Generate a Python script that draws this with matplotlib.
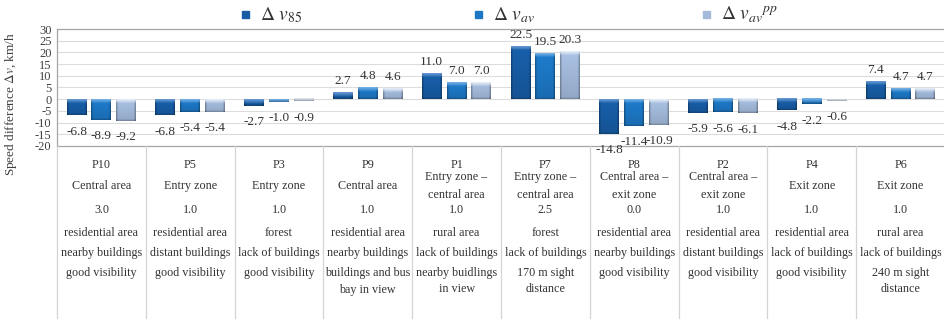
#!/usr/bin/env python3
"""
Speed difference per measurement point, with a descriptive table of the
site conditions underneath the bars.
"""
import numpy as np
import matplotlib
matplotlib.use('Agg')
import matplotlib.pyplot as plt
from matplotlib.colors import to_rgb
from matplotlib.patches import Rectangle

plt.rcParams['font.family'] = ['Liberation Serif', 'DejaVu Serif']
plt.rcParams['mathtext.fontset'] = 'stix'

# --- data -------------------------------------------------------------
points = ['P10', 'P5', 'P3', 'P9', 'P1', 'P7', 'P8', 'P2', 'P4', 'P6']
zones = ['Central area', 'Entry zone', 'Entry zone', 'Central area',
         'Entry zone –\ncentral area', 'Entry zone –\ncentral area',
         'Central area –\nexit zone', 'Central area –\nexit zone',
         'Exit zone', 'Exit zone']
numbers = ['3.0', '1.0', '1.0', '1.0', '1.0', '2.5', '0.0', '1.0', '1.0', '1.0']
land_use = ['residential area', 'residential area', 'forest', 'residential area',
            'rural area', 'forest', 'residential area', 'residential area',
            'residential area', 'rural area']
buildings = ['nearby buildings', 'distant buildings', 'lack of buildings',
             'nearby buildings', 'lack of buildings', 'lack of buildings',
             'nearby buildings', 'distant buildings', 'lack of buildings',
             'lack of buildings']
visibility = ['good visibility', 'good visibility', 'good visibility',
              'buildings and bus\nbay in view', 'nearby buidlings\nin view',
              '170 m sight\ndistance', 'good visibility', 'good visibility',
              'good visibility', '240 m sight\ndistance']

dv85 = [-6.8, -6.8, -2.7, 2.7, 11.0, 22.5, -14.8, -5.9, -4.8, 7.4]
dvav = [-8.9, -5.4, -1.0, 4.8, 7.0, 19.5, -11.4, -5.6, -2.2, 4.7]
dvav_pp = [-9.2, -5.4, -0.9, 4.6, 7.0, 20.3, -10.9, -6.1, -0.6, 4.7]

series = [dv85, dvav, dvav_pp]
series_labels = [r'$\Delta\ v_{85}$', r'$\Delta\ v_{av}$', r'$\Delta\ v_{av}{}^{pp}$']
colors = ['#175ca4', '#1d77c4', '#a3badb']
tops = ['#6a9bd6', '#79b3e6', '#eaf0f8']

y_ticks = list(range(-20, 31, 5))

# --- layout -----------------------------------------------------------
W, H = 945, 320
fig = plt.figure(figsize=(W / 100, H / 100), dpi=100)
ax_left, ax_top, ax_bot = 57, 29, 146
ax = fig.add_axes([ax_left / W, 1 - ax_bot / H, 1 - ax_left / W, (ax_bot - ax_top) / H])
tab = fig.add_axes([ax_left / W, 0, 1 - ax_left / W, 1 - ax_bot / H])

x = np.arange(len(points))
bar_w = 0.225
step = 0.28
ylo, yhi = -20, 30
px_per_unit = (ax_bot - ax_top) / (yhi - ylo)
bar_px_w = bar_w * (W - ax_left) / len(points)


def shaded_bar(patch, base, top):
    """Paint a bevelled gradient inside a bar rectangle."""
    x0, w = patch.get_x(), patch.get_width()
    y0, h = patch.get_y(), patch.get_height()
    ya, yb = min(y0, y0 + h), max(y0, y0 + h)
    bar_px = max((yb - ya) * px_per_unit, 0.5)
    n = max(int(bar_px * 3), 3)
    m = 60
    base = np.array(to_rgb(base))
    top = np.array(to_rgb(top))
    # darker rims on the left/right sides
    cols = (np.arange(m) + 0.5) / m * bar_px_w
    rim = np.minimum(cols, bar_px_w - cols)
    side = 1 - 0.35 * np.clip(1 - rim / 2.2, 0, 1)
    rows = (np.arange(n) + 0.5) / n * bar_px
    # slight vertical fade towards the bottom
    fade = 1.05 - 0.15 * rows / max(bar_px, 1)
    img = base[None, None, :] * side[None, :, None] * fade[:, None, None]
    # light bevel along the top edge
    band = np.clip(1 - rows / 4.0, 0, 1) ** 0.8
    img = img * (1 - band[:, None, None]) + top * band[:, None, None]
    low = np.clip(1 - (bar_px - rows) / 2.0, 0, 1)
    img = img * (1 - 0.25 * low[:, None, None])
    ax.imshow(np.clip(img, 0, 1), extent=[x0, x0 + w, ya, yb], aspect='auto',
              interpolation='bilinear', zorder=3)


for i, (vals, c, tc) in enumerate(zip(series, colors, tops)):
    bars = ax.bar(x + (i - 1) * step, vals, width=bar_w, color=c, zorder=2,
                  linewidth=0)
    for b, v in zip(bars, vals):
        shaded_bar(b, c, tc)
        cx = b.get_x() + b.get_width() / 2
        if v >= 0:
            ax.annotate(f'{v:.1f}', (cx, v), xytext=(0, 4), textcoords='offset points',
                        ha='center', va='bottom', fontsize=9.5, color='#333333',
                        annotation_clip=False, zorder=5)
        else:
            ax.annotate(f'{v:.1f}', (cx, v), xytext=(0, -7.5), textcoords='offset points',
                        ha='center', va='top', fontsize=9.5, color='#333333',
                        annotation_clip=False, zorder=5)

ax.set_xlim(-0.5, len(points) - 0.5)
ax.set_ylim(ylo, yhi)
ax.set_yticks(y_ticks)
ax.set_yticklabels([str(v) for v in y_ticks])
ax.set_xticks([])
ax.tick_params(axis='y', length=0, pad=4, labelsize=9, labelcolor='#404040')
ax.grid(axis='y', color='#dcdcdc', linewidth=0.8, zorder=0)
ax.set_axisbelow(True)
for s in ['left', 'top', 'bottom']:
    ax.spines[s].set_color('#a6a6a6')
    ax.spines[s].set_linewidth(0.9)
ax.spines['right'].set_visible(False)
ax.set_ylabel(r'Speed difference $\Delta v$, km/h', fontsize=9.5, color='#404040')
ax.yaxis.set_label_coords(-0.043, 0.36)

# --- condition table --------------------------------------------------
tab.set_xlim(-0.5, len(points) - 0.5)
tab.set_ylim(H - ax_bot, 0)
tab.axis('off')
for k in range(len(points) + 1):
    tab.plot([k - 0.5, k - 0.5], [0, H - ax_bot - 2], color='#d4d4d4', lw=0.9,
             clip_on=False)

row_y = [19, 40, 64, 87, 107]
rows = [points, zones, numbers, land_use, buildings]
for yy, row in zip(row_y, rows):
    for xi, txt in zip(x, row):
        tab.text(xi, yy, txt, ha='center', va='center', fontsize=8.7,
                 color='#333333', linespacing=1.65)
for xi, txt in zip(x, visibility):
    tab.text(xi, 121, txt, ha='center', va='top', fontsize=8.7,
             color='#333333', linespacing=1.5)

# --- legend -----------------------------------------------------------
legend_x = [242, 475, 703]
for lx, lab, c in zip(legend_x, series_labels, colors):
    fig.add_artist(Rectangle((lx / W, 1 - 18 / H), 7 / W, 7 / H, color=c,
                             transform=fig.transFigure))
    fig.text((lx + 18) / W, 1 - 15 / H, lab, fontsize=14, color='#333333',
             ha='left', va='center')

fig.savefig('out.png', dpi=100)
